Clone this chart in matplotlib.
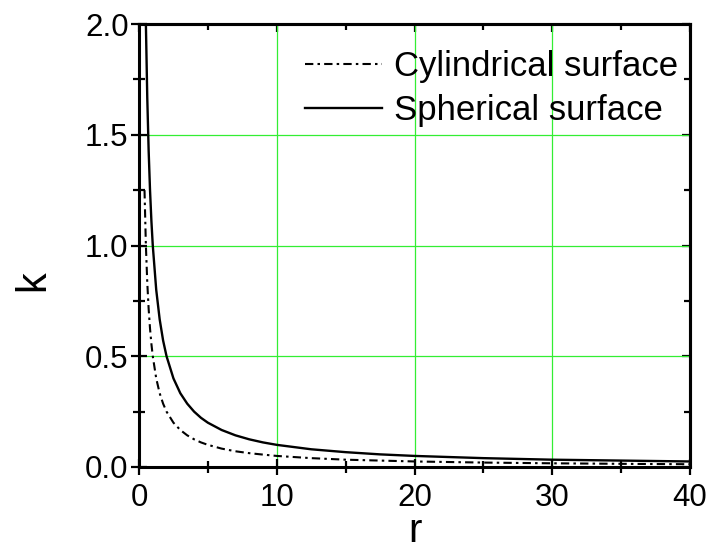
import numpy as np
import matplotlib
matplotlib.use("Agg")
import matplotlib.pyplot as plt
from matplotlib.ticker import MultipleLocator, FormatStrFormatter

plt.rcParams['font.family'] = ['Liberation Sans', 'DejaVu Sans']

# values
r = [0.4, 0.5, 0.6, 0.7, 0.8, 0.9, 1.0, 1.25, 1.5, 1.75, 2.0, 2.5, 3.0, 3.5,
     4.0, 4.5, 5.0, 6.0, 7.0, 8.0, 9.0, 10.0, 12.5, 15.0, 17.5, 20.0, 25.0,
     30.0, 35.0, 40.0]
k_cyl = [1.25, 1.0, 0.833, 0.714, 0.625, 0.556, 0.5, 0.4, 0.333, 0.286, 0.25,
         0.2, 0.167, 0.143, 0.125, 0.111, 0.1, 0.083, 0.071, 0.0625, 0.056,
         0.05, 0.04, 0.033, 0.029, 0.025, 0.02, 0.0167, 0.0143, 0.0125]
k_sph = [2.5, 2.0, 1.667, 1.429, 1.25, 1.111, 1.0, 0.8, 0.667, 0.571, 0.5,
         0.4, 0.333, 0.286, 0.25, 0.222, 0.2, 0.167, 0.143, 0.125, 0.111,
         0.1, 0.08, 0.067, 0.057, 0.05, 0.04, 0.033, 0.029, 0.025]

fig = plt.figure(figsize=(7.1, 5.53), dpi=100)
ax = fig.add_axes([139 / 710, 1 - 467 / 553, 551 / 710, 443 / 553])

ax.plot(r, k_cyl, color='black', lw=1.5, ls=(0, (4, 2, 1.2, 2)),
        label='Cylindrical surface')
ax.plot(r, k_sph, color='black', lw=1.7, label='Spherical surface')

ax.set_xlim(0, 40)
ax.set_ylim(0, 2.0)
ax.xaxis.set_major_locator(MultipleLocator(10))
ax.xaxis.set_minor_locator(MultipleLocator(5))
ax.yaxis.set_major_locator(MultipleLocator(0.5))
ax.yaxis.set_minor_locator(MultipleLocator(0.25))
ax.yaxis.set_major_formatter(FormatStrFormatter('%.1f'))

ax.grid(True, which='major', color='#33ee33', lw=0.9)
ax.set_axisbelow(True)

ax.tick_params(which='both', direction='inout', labelsize=22.5, width=1.6)
ax.tick_params(which='major', length=11)
ax.tick_params(which='minor', length=8)
ax.tick_params(axis='x', pad=6)
ax.tick_params(axis='y', pad=2)
for s in ax.spines.values():
    s.set_linewidth(2.2)

# top and right ticks point inward only
top = ax.secondary_xaxis('top')
right = ax.secondary_yaxis('right')
for sec in (top, right):
    sec.tick_params(which='both', direction='in', width=1.6,
                    labeltop=False, labelright=False)
    sec.tick_params(which='major', length=6)
    sec.tick_params(which='minor', length=4)
    for s in sec.spines.values():
        s.set_linewidth(2.2)
top.xaxis.set_major_locator(MultipleLocator(10))
top.xaxis.set_minor_locator(MultipleLocator(5))
right.yaxis.set_major_locator(MultipleLocator(0.5))
right.yaxis.set_minor_locator(MultipleLocator(0.25))

ax.set_xlabel('r', fontsize=29, labelpad=-1)
ax.set_ylabel('k', fontsize=30)
ax.yaxis.set_label_coords(-0.155, 0.42)

ax.legend(loc='upper right', bbox_to_anchor=(1.0, 0.968), frameon=False,
          fontsize=25, handlelength=2.2, handletextpad=0.35, labelspacing=0.3,
          borderaxespad=0.05, borderpad=0.3)

fig.savefig('out.png', dpi=100)
